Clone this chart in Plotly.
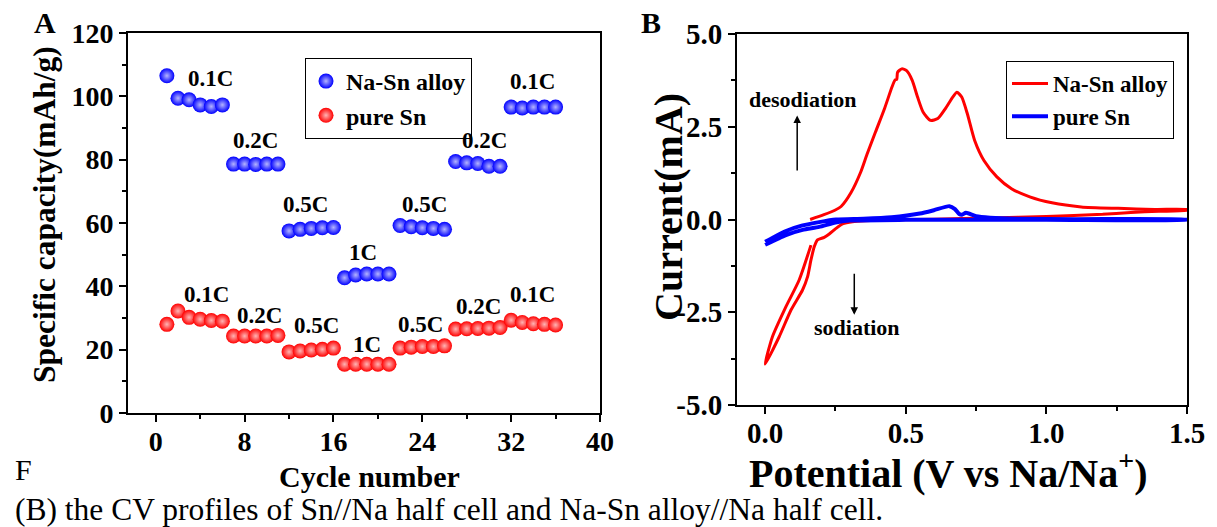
import plotly.graph_objects as go

# ---------------- Panel A: rate capability ----------------
cycles = list(range(1, 37))
na_sn_capacity = [106.5, 99.4, 98.9, 97.3, 96.8, 97.3,
                  78.6, 78.6, 78.5, 78.6, 78.6,
                  57.5, 58.0, 58.3, 58.5, 58.6,
                  42.7, 43.6, 43.9, 43.9, 43.9,
                  59.2, 58.8, 58.5, 58.3, 58.0,
                  79.4, 79.0, 78.8, 77.9, 77.9,
                  96.6, 96.3, 96.6, 96.6, 96.6]
pure_sn_capacity = [28.0, 32.2, 30.2, 29.6, 29.2, 29.0,
                    24.3, 24.3, 24.3, 24.3, 24.5,
                    19.3, 19.6, 19.9, 20.1, 20.5,
                    15.4, 15.4, 15.4, 15.4, 15.4,
                    20.5, 20.8, 21.0, 21.0, 21.2,
                    26.5, 26.6, 26.7, 26.8, 27.0,
                    29.3, 28.6, 28.2, 28.0, 27.8]
rate_labels = ["0.1C", "0.2C", "0.5C", "1C", "0.5C", "0.2C", "0.1C"]

# ---------------- Panel B: cyclic voltammetry ----------------
na_sn_potential = [0.160, 0.209, 0.248, 0.270, 0.305, 0.340, 0.362, 0.392, 0.425, 0.451,
                   0.462, 0.468, 0.471, 0.486, 0.503, 0.523, 0.542, 0.562, 0.588, 0.614,
                   0.641, 0.667, 0.682, 0.699, 0.719, 0.745, 0.778, 0.824, 0.876, 0.941,
                   1.020, 1.124, 1.255, 1.386, 1.500,
                   1.500, 1.400, 1.300, 1.200, 1.000, 0.800, 0.600, 0.450, 0.311, 0.275,
                   0.252, 0.228, 0.210, 0.186, 0.175, 0.163, 0.151, 0.133, 0.092, 0.050,
                   0.000,
                   0.026, 0.074, 0.121, 0.163]
na_sn_current = [0.00, 0.13, 0.25, 0.35, 0.72, 1.28, 1.75, 2.35, 3.00, 3.57,
                 3.76, 3.78, 3.97, 4.06, 4.01, 3.75, 3.30, 2.89, 2.67, 2.72,
                 2.99, 3.30, 3.43, 3.30, 2.85, 2.13, 1.59, 1.15, 0.83, 0.61,
                 0.45, 0.34, 0.30, 0.27, 0.27,
                 0.25, 0.22, 0.19, 0.14, 0.08, 0.04, 0.01, -0.01, -0.06, -0.12,
                 -0.24, -0.39, -0.48, -0.55, -0.73, -1.09, -1.54, -1.90, -2.44, -3.16,
                 -3.90,
                 -3.16, -2.35, -1.63, -0.69]
pure_sn_potential = [0.000, 0.074, 0.133, 0.192, 0.252, 0.350, 0.450, 0.550, 0.600, 0.655,
                     0.675, 0.690, 0.700, 0.714, 0.750, 0.800, 0.900, 1.100, 1.500,
                     1.500, 1.000, 0.500, 0.300, 0.250, 0.192, 0.133, 0.074, 0.000]
pure_sn_current = [-0.60, -0.31, -0.16, -0.07, 0.00, 0.02, 0.06, 0.16, 0.25, 0.36,
                   0.28, 0.15, 0.13, 0.18, 0.09, 0.05, 0.02, 0.01, 0.00,
                   -0.01, -0.01, -0.01, -0.03, -0.08, -0.20, -0.28, -0.42, -0.68]
current_ticks = [-5.0, -2.5, 0.0, 2.5, 5.0]
current_tick_text = ["-5.0", "-2.5", "0.0", "2.5", "5.0"]

W, H = 1217, 527
SERIF = "Liberation Serif"
BLUE = "#0000ff"
RED = "#ff0000"


def px_x(p):
    return p / W


def px_y(p):
    return 1 - p / H


fig = go.Figure()

fig.add_trace(go.Scatter(
    x=cycles, y=na_sn_capacity, mode="markers", name="Na-Sn alloy",
    marker=dict(size=15, color=BLUE, line=dict(width=0),
                gradient=dict(type="radial", color="#b4b4ff")),
    xaxis="x", yaxis="y", legend="legend"))
fig.add_trace(go.Scatter(
    x=cycles, y=pure_sn_capacity, mode="markers", name="pure Sn",
    marker=dict(size=15, color=RED, line=dict(width=0),
                gradient=dict(type="radial", color="#ffb4b4")),
    xaxis="x", yaxis="y", legend="legend"))

fig.add_trace(go.Scatter(
    x=na_sn_potential, y=na_sn_current, mode="lines", name="Na-Sn alloy",
    line=dict(color=RED, width=3, shape="spline", smoothing=0.6),
    xaxis="x2", yaxis="y2", legend="legend2"))
fig.add_trace(go.Scatter(
    x=pure_sn_potential, y=pure_sn_current, mode="lines", name="pure Sn",
    line=dict(color=BLUE, width=4, shape="spline", smoothing=0.6),
    xaxis="x2", yaxis="y2", legend="legend2"))

tick_font_a = dict(family=SERIF, size=28, color="black", weight="bold")
tick_font_b = dict(family=SERIF, size=29, color="black", weight="bold")
frame = dict(showline=True, linecolor="black", linewidth=2, mirror=True,
             showgrid=False, zeroline=False, ticks="outside", ticklen=7,
             tickwidth=1.5, tickcolor="black", automargin=False)

fig.update_layout(
    width=W, height=H, autosize=False,
    margin=dict(l=0, r=0, t=0, b=0, pad=0, autoexpand=False),
    paper_bgcolor="white", plot_bgcolor="white",
    xaxis=dict(domain=[px_x(128), px_x(600)], range=[-2.5, 40], dtick=8, tick0=0,
               tickfont=tick_font_a, anchor="y", ticklabelstandoff=-5,
               minor=dict(ticks="outside", ticklen=4, dtick=4, tickcolor="black"),
               **frame),
    yaxis=dict(domain=[px_y(413), px_y(33)], range=[0, 120], dtick=20,
               tickfont=tick_font_a, anchor="x",
               minor=dict(ticks="outside", ticklen=4, dtick=10, tickcolor="black"),
               **frame),
    xaxis2=dict(domain=[px_x(737), px_x(1187)], range=[-0.1, 1.5], dtick=0.5,
                tick0=0, tickformat=".1f", tickfont=tick_font_b, anchor="y2",
                ticklabelstandoff=-6,
                minor=dict(ticks="outside", ticklen=4, dtick=0.25, tickcolor="black"),
                **frame),
    yaxis2=dict(domain=[px_y(405), px_y(34)], range=[-5, 5],
                tickvals=current_ticks, ticktext=current_tick_text,
                tickfont=tick_font_b, anchor="x2",
                minor=dict(ticks="outside", ticklen=4,
                           tickvals=[-3.75, -1.25, 1.25, 3.75], tickcolor="black"),
                **frame),
    legend=dict(x=px_x(305), y=px_y(58), xanchor="left", yanchor="top",
                bordercolor="black", borderwidth=1, bgcolor="white",
                font=dict(family=SERIF, size=24, color="black", weight="bold"),
                itemsizing="trace", tracegroupgap=0),
    legend2=dict(x=px_x(1006), y=px_y(61), xanchor="left", yanchor="top",
                 bordercolor="black", borderwidth=1, bgcolor="white",
                 font=dict(family=SERIF, size=23, color="black", weight="bold"),
                 itemwidth=36, tracegroupgap=0),
    showlegend=True,
)

# rate labels above each group of cycles
blue_label_pos = [(4.9, 105.6), (9.0, 86.2), (13.5, 65.8), (18.7, 50.7),
                  (24.2, 66.0), (29.6, 85.9), (33.9, 104.7)]
red_label_pos = [(4.6, 37.4), (9.3, 30.9), (14.5, 27.6), (19.0, 21.6),
                 (23.8, 27.9), (29.1, 33.6), (33.9, 37.3)]
label_font = dict(family=SERIF, size=23, color="black", weight="bold")
for text, (lx, ly) in zip(rate_labels, blue_label_pos):
    fig.add_annotation(x=lx, y=ly, xref="x", yref="y", text=text, showarrow=False,
                       font=label_font, xanchor="center", yanchor="middle")
for text, (lx, ly) in zip(rate_labels, red_label_pos):
    fig.add_annotation(x=lx, y=ly, xref="x", yref="y", text=text, showarrow=False,
                       font=label_font, xanchor="center", yanchor="middle")

# desodiation / sodiation arrows and notes
note_font = dict(family=SERIF, size=22, color="black", weight="bold")
fig.add_annotation(x=0.114, y=2.8, ax=0.114, ay=1.28, xref="x2", yref="y2",
                   axref="x2", ayref="y2", text="", showarrow=True,
                   arrowhead=2, arrowsize=1, arrowwidth=1.5, arrowcolor="black")
fig.add_annotation(x=0.134, y=3.23, xref="x2", yref="y2", text="desodiation",
                   showarrow=False, font=note_font)
fig.add_annotation(x=0.317, y=-2.57, ax=0.317, ay=-1.42, xref="x2", yref="y2",
                   axref="x2", ayref="y2", text="", showarrow=True,
                   arrowhead=2, arrowsize=1, arrowwidth=1.5, arrowcolor="black")
fig.add_annotation(x=0.328, y=-2.92, xref="x2", yref="y2", text="sodiation",
                   showarrow=False, font=note_font)

# axis titles, panel letters and caption
def paper_text(text, x, y, size, bold=True, angle=0, xanchor="center"):
    fig.add_annotation(x=px_x(x), y=px_y(y), xref="paper", yref="paper", text=text,
                       showarrow=False, textangle=angle, xanchor=xanchor,
                       yanchor="middle",
                       font=dict(family=SERIF, size=size, color="black",
                                 weight="bold" if bold else "normal"))


paper_text("Specific capacity(mAh/g)", 44, 215, 31.5, angle=-90)
paper_text("Cycle number", 369, 476, 30)
paper_text("Current(mA)", 668, 207, 40, angle=-90)
paper_text("Potential (V vs Na/Na<sup>+</sup>)", 948, 470, 40)
paper_text("A", 45, 22, 30)
paper_text("B", 651, 22, 30)
paper_text("F", 13, 469, 30, bold=False, xanchor="left")
paper_text("(B) the CV profiles of Sn//Na half cell and Na-Sn alloy//Na half cell.",
           13, 509, 31.5, bold=False, xanchor="left")

fig.write_html("out.html")
